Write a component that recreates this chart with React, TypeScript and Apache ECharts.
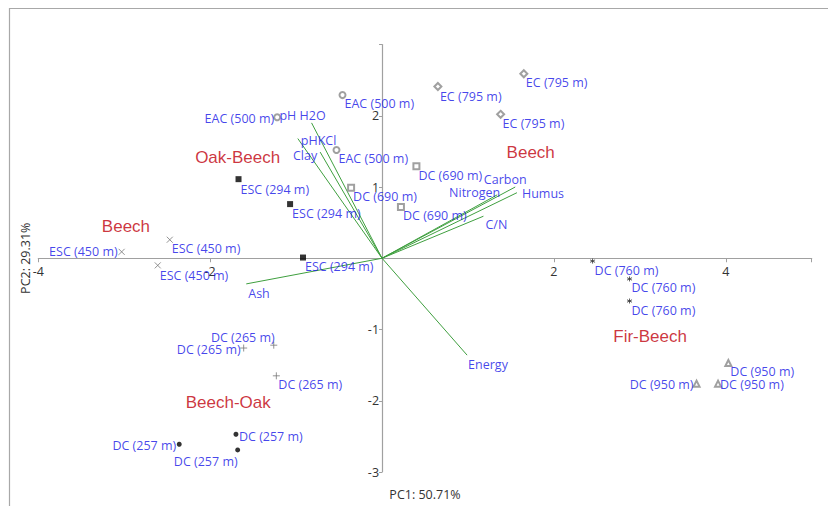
import React, { useEffect, useRef } from 'react';
import * as echarts from 'echarts';

// ---- Site scores (PC1, PC2) ----
const eac500 = [[-0.46, 2.29], [-1.22, 1.98], [-0.53, 1.52]];
const dc690 = [[-0.36, 0.99], [0.22, 0.72], [0.40, 1.29]];
const esc294 = [[-1.67, 1.11], [-1.07, 0.76], [-0.92, 0.01]];
const esc450 = [[-2.47, 0.26], [-3.03, 0.09], [-2.61, -0.10]];
const ec795 = [[0.65, 2.41], [1.65, 2.59], [1.38, 2.02]];
const dc265 = [[-1.61, -1.26], [-1.26, -1.22], [-1.23, -1.65]];
const dc257 = [[-2.36, -2.61], [-1.70, -2.47], [-1.68, -2.69]];
const dc760 = [[2.45, -0.04], [2.88, -0.29], [2.88, -0.60]];
const dc950 = [[4.03, -1.47], [3.66, -1.76], [3.91, -1.76]];

// ---- Variable loadings ----
const variableNames = ['pH H2O', 'pHKCl', 'Clay', 'Carbon', 'Nitrogen', 'Humus', 'C/N', 'Ash', 'Energy'];
const variablePC1 = [-0.82, -0.98, -0.72, 1.55, 1.34, 1.57, 1.18, -1.58, 0.99];
const variablePC2 = [1.90, 1.68, 1.49, 1.00, 0.89, 0.92, 0.59, -0.36, -1.36];

// ---- Forest type annotations ----
const groupNames = ['Oak-Beech', 'Beech', 'Beech', 'Beech-Oak', 'Fir-Beech'];
const groupPC1 = [-1.68, -2.98, 1.73, -1.79, 3.12];
const groupPC2 = [1.42, 0.44, 1.49, -2.02, -1.10];

// ---- Axis ranges ----
const xMin = -4, xMax = 5, xStep = 2;
const yMin = -3, yMax = 3, yStep = 1;

// ---- Label layout (pixel offsets from marker, alignment) ----
type LP = [number, number, 'left' | 'right' | 'center'];
const L: LP = [2, 9, 'left'];
const siteLabelLayout: Record<string, LP[]> = {
  eac500: [[2, 8, 'left'], [-3, 1, 'right'], [2, 9, 'left']],
  dc690: [L, L, L],
  esc294: [[2, 10, 'left'], L, L],
  esc450: [L, [-4, 0, 'right'], [2, 10, 'left']],
  ec795: [[2, 10, 'left'], L, L],
  dc265: [[-3, 1, 'right'], [1, -8, 'right'], L],
  dc257: [[-3, 1, 'right'], [3, 2, 'left'], [0, 12, 'right']],
  dc760: [L, L, L],
  dc950: [L, [-3, 1, 'right'], [2, 1, 'left']],
};
const variableLabelLayout: LP[] = [
  [-9, -7, 'center'], [3, 2, 'left'], [-3, 3, 'right'], [-10, -8, 'center'],
  [3, -2, 'right'], [5, 1, 'left'], [2, 8, 'left'], [2, 10, 'left'], [1, 9, 'left'],
];

const BLUE = '#1414e6';
const RED = '#c0000c';
const GREEN = '#3f9f3f';
const FONT = '"Open Sans", "Noto Sans", sans-serif';

const crossPath = 'path://M0,0L10,10M10,0L0,10';
const plusPath = 'path://M5,0L5,10M0,5L10,5';
const starPath = 'path://M5,0L5,10M0.7,2.5L9.3,7.5M0.7,7.5L9.3,2.5';

const siteGroups = [
  { key: 'eac500', name: 'EAC (500 m)', pts: eac500, symbol: 'emptyCircle', size: 6, color: '#888', border: 1, fill: '#fff' },
  { key: 'dc690', name: 'DC (690 m)', pts: dc690, symbol: 'emptyRect', size: 6, color: '#888', border: 1, fill: '#fff' },
  { key: 'esc294', name: 'ESC (294 m)', pts: esc294, symbol: 'rect', size: 6, color: '#000', border: 0, fill: '#000' },
  { key: 'esc450', name: 'ESC (450 m)', pts: esc450, symbol: crossPath, size: 6, color: '#777', border: 1, fill: 'none' },
  { key: 'ec795', name: 'EC (795 m)', pts: ec795, symbol: 'emptyDiamond', size: 7, color: '#888', border: 1, fill: '#fff' },
  { key: 'dc265', name: 'DC (265 m)', pts: dc265, symbol: plusPath, size: 7, color: '#777', border: 1, fill: 'none' },
  { key: 'dc257', name: 'DC (257 m)', pts: dc257, symbol: 'circle', size: 5, color: '#000', border: 0, fill: '#000' },
  { key: 'dc760', name: 'DC (760 m)', pts: dc760, symbol: starPath, size: 5, color: '#333', border: 1, fill: 'none' },
  { key: 'dc950', name: 'DC (950 m)', pts: dc950, symbol: 'emptyTriangle', size: 6, color: '#888', border: 1, fill: '#fff' },
];

function makeLabel(lp: LP, color: string, size: number, family: string) {
  return {
    show: true,
    position: 'inside',
    offset: [lp[0], lp[1]],
    align: lp[2],
    verticalAlign: 'middle',
    color,
    fontSize: size,
    fontFamily: family,
    formatter: '{b}',
  };
}

const W = 828, H = 506;
const GRID = { left: 38.3, right: 16.3, top: 44.5, bottom: 34 };

export default function App() {
  const ref = useRef<HTMLDivElement>(null);
  useEffect(() => {
    if (!ref.current) return;
    const chart = echarts.init(ref.current, undefined, { renderer: 'svg' });

    // place the axes through the origin by offsetting them from the grid edges
    const gw = W - GRID.left - GRID.right;
    const gh = H - GRID.top - GRID.bottom;
    const x0 = GRID.left + ((0 - xMin) / (xMax - xMin)) * gw;
    const y0 = GRID.top + ((yMax - 0) / (yMax - yMin)) * gh;
    const xAxisOffset = y0 - (H - GRID.bottom);
    const yAxisOffset = -(x0 - GRID.left);

    const siteSeries = siteGroups.map((g) => ({
      type: 'scatter',
      name: g.name,
      symbol: g.symbol,
      symbolSize: g.size,
      z: 5,
      itemStyle: g.symbol.startsWith('path://')
        ? { color: 'none', borderColor: g.color, borderWidth: g.border }
        : g.symbol.startsWith('empty')
        ? { color: g.color, borderWidth: 1 }
        : { color: g.fill },
      data: g.pts.map((p, i) => ({
        name: g.name,
        value: p,
        label: makeLabel(siteLabelLayout[g.key][i], BLUE, 12.5, FONT),
      })),
      emphasis: { disabled: true },
    }));

    const vectorSeries = variableNames.map((n, i) => ({
      type: 'line',
      name: n,
      symbol: 'none',
      z: 3,
      lineStyle: { color: GREEN, width: 1 },
      data: [[0, 0], [variablePC1[i], variablePC2[i]]],
      emphasis: { disabled: true },
    }));

    const vectorLabels = {
      type: 'scatter',
      symbolSize: 1,
      itemStyle: { color: 'rgba(0,0,0,0)' },
      z: 6,
      data: variableNames.map((n, i) => ({
        name: n,
        value: [variablePC1[i], variablePC2[i]],
        label: makeLabel(variableLabelLayout[i], BLUE, 12.5, FONT),
      })),
      emphasis: { disabled: true },
    };

    const groupLabels = {
      type: 'scatter',
      symbolSize: 1,
      itemStyle: { color: 'rgba(0,0,0,0)' },
      z: 6,
      data: groupNames.map((n, i) => ({
        name: n,
        value: [groupPC1[i], groupPC2[i]],
        label: makeLabel([0, 0, 'center'], RED, 17, '"Liberation Sans", Arial, sans-serif'),
      })),
      emphasis: { disabled: true },
    };

    chart.setOption({
      animation: false,
      backgroundColor: '#fff',
      grid: { ...GRID, containLabel: false, outerBoundsMode: 'none' },
      graphic: [
        {
          type: 'rect',
          shape: { x: 9.5, y: 8.5, width: 840, height: 520 },
          style: { fill: 'none', stroke: '#a8a8a8', lineWidth: 1.2 },
          silent: true,
        },
      ],
      xAxis: {
        type: 'value',
        position: 'bottom',
        offset: xAxisOffset,
        min: xMin,
        max: xMax,
        interval: xStep,
        splitLine: { show: false },
        axisLine: { onZero: false, lineStyle: { color: '#a0a0a0', width: 1.2 } },
        axisTick: { show: true, length: 4, lineStyle: { color: '#a0a0a0' } },
        axisLabel: {
          formatter: (v: number) => (v === 0 || v === xMax ? '' : String(v)),
          color: '#333',
          fontSize: 12.5,
          fontFamily: FONT,
          margin: 7,
        },
        name: 'PC1: 50.71%',
        nameLocation: 'middle',
        nameGap: 230,
        nameMoveOverlap: false,
        nameTextStyle: { color: '#333', fontSize: 12.5, fontFamily: FONT },
      },
      yAxis: {
        type: 'value',
        position: 'left',
        offset: yAxisOffset,
        min: yMin,
        max: yMax,
        interval: yStep,
        splitLine: { show: false },
        axisLine: { onZero: false, lineStyle: { color: '#a0a0a0', width: 1.2 } },
        axisTick: { show: true, length: 3, lineStyle: { color: '#a0a0a0' } },
        axisLabel: {
          formatter: (v: number) => (v === 0 || v === yMax ? '' : String(v)),
          color: '#333',
          fontSize: 12.5,
          fontFamily: FONT,
          margin: 3,
        },
        name: 'PC2: 29.31%',
        nameLocation: 'middle',
        nameGap: 350,
        nameMoveOverlap: false,
        nameTextStyle: { color: '#333', fontSize: 12.5, fontFamily: FONT },
      },
      series: [...vectorSeries, ...siteSeries, vectorLabels, groupLabels],
    });
    return () => chart.dispose();
  }, []);
  return (
    <div
      ref={ref}
      style={{ position: 'fixed', left: 0, top: 0, width: W, height: H, background: '#fff' }}
    />
  );
}
